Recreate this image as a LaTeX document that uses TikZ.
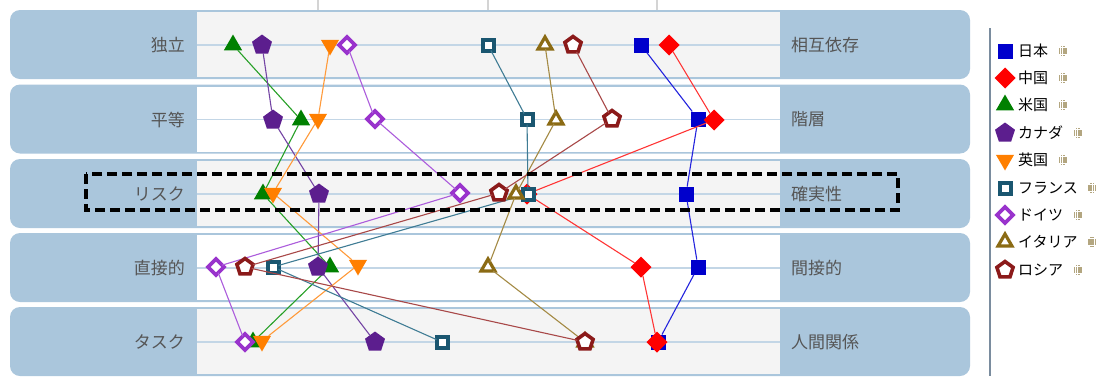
\documentclass[tikz,border=0pt]{standalone}
\usepackage{fontspec}
\setmainfont{Noto Sans CJK JP}
\usetikzlibrary{shapes.geometric}
\definecolor{band}{HTML}{AAC6DC}
\definecolor{panelgray}{HTML}{F4F4F4}
\definecolor{gridline}{HTML}{C3D6E6}
\definecolor{labelgray}{HTML}{555555}
\definecolor{tickgray}{HTML}{D4D4D4}
\definecolor{legline}{HTML}{7A8C9E}
\definecolor{dotc}{HTML}{B3A680}
\definecolor{cjp}{HTML}{0000CC}
\definecolor{ccn}{HTML}{FF0000}
\definecolor{cus}{HTML}{008000}
\definecolor{cca}{HTML}{5C1E8E}
\definecolor{cuk}{HTML}{FF7F00}
\definecolor{cfr}{HTML}{1A5670}
\definecolor{cde}{HTML}{9933CC}
\definecolor{cit}{HTML}{8B6B14}
\definecolor{cru}{HTML}{8B1A1A}
\definecolor{ljp}{HTML}{2323DD}
\definecolor{lcn}{HTML}{FF3535}
\definecolor{lus}{HTML}{27A027}
\definecolor{lca}{HTML}{7444A4}
\definecolor{luk}{HTML}{FF9A3A}
\definecolor{lfr}{HTML}{3F7C94}
\definecolor{lde}{HTML}{AC5CDC}
\definecolor{lit}{HTML}{A48A44}
\definecolor{lru}{HTML}{A84848}
\tikzset{
  lbl/.style={text=labelgray, font=\fontsize{17}{19}\selectfont, inner sep=0pt},
  legtxt/.style={text=black, font=\fontsize{15}{17}\selectfont, inner sep=0pt, anchor=west},
  dotico/.style={circle, minimum size=10pt, inner sep=0pt},
  ser/.style={line width=1.1pt},
  mk/.style={inner sep=0pt, outer sep=0pt},
  mjp/.style={mk, rectangle, fill=cjp, minimum size=15pt},
  mcn/.style={mk, diamond, fill=ccn, minimum size=21pt},
  mus/.style={mk, regular polygon, regular polygon sides=3, fill=cus, minimum size=21pt},
  mca/.style={mk, regular polygon, regular polygon sides=5, fill=cca, minimum size=21pt},
  muk/.style={mk, regular polygon, regular polygon sides=3, shape border rotate=180, fill=cuk, minimum size=21pt},
  mfr/.style={mk, rectangle, draw=cfr, line width=4pt, fill=white, minimum size=11pt},
  mde/.style={mk, diamond, draw=cde, line width=3.6pt, fill=white, minimum size=16pt},
  mit/.style={mk, regular polygon, regular polygon sides=3, draw=cit, line width=3.2pt, fill=white, minimum size=16pt},
  mru/.style={mk, regular polygon, regular polygon sides=5, draw=cru, line width=3.6pt, fill=white, minimum size=17pt},
}
\begin{document}
\begin{tikzpicture}[x=1pt,y=-1pt]
\useasboundingbox (0,0) rectangle (1104,376);
\fill[white] (0,0) rectangle (1104,376);
% top ticks
\foreach \t in {318,488,657} \draw[tickgray, line width=1.5pt] (\t,0) -- (\t,10);
% bands
\foreach \c/\f in {45/panelgray,119.5/white,194/panelgray,268/white,342/panelgray} {
  \fill[band, rounded corners=10pt] (10,\c-35) rectangle (970,\c+34);
  \fill[\f] (197,\c-33) rectangle (780,\c+32);
  \draw[gridline, line width=1.5pt] (197,\c) -- (780,\c);
}
% labels
\node[lbl, anchor=east] (l1) at (185,45) {独立};
\node[lbl, anchor=east] (l2) at (185,119.5) {平等};
\node[lbl, anchor=east] (l3) at (185,194) {リスク};
\node[lbl, anchor=east] (l4) at (185,268) {直接的};
\node[lbl, anchor=east] (l5) at (185,342) {タスク};
\node[lbl, anchor=west] (r1) at (791,45) {相互依存};
\node[lbl, anchor=west] (r2) at (791,119.5) {階層};
\node[lbl, anchor=west] (r3) at (791,194) {確実性};
\node[lbl, anchor=west] (r4) at (791,268) {間接的};
\node[lbl, anchor=west] (r5) at (791,342) {人間関係};
% series
\foreach \x/\y [count=\i] in {641/45,698/119,686/194,698/267,658/342} \node[mjp] (jp\i) at (\x,\y) {};
\draw[ljp,ser] (jp1)--(jp2)--(jp3)--(jp4)--(jp5);
\foreach \x/\y [count=\i] in {669/45,714/120,527/194,641/267,657/342} \node[mcn] (cn\i) at (\x,\y) {};
\draw[lcn,ser] (cn1)--(cn2)--(cn3)--(cn4)--(cn5);
\foreach \x/\y [count=\i] in {233/45,301/120,263/194,330/267,253/342} \node[mus] (us\i) at (\x,\y) {};
\draw[lus,ser] (us1)--(us2)--(us3)--(us4)--(us5);
\foreach \x/\y [count=\i] in {262/45,273/120,319/194,318/267,375/342} \node[mca] (ca\i) at (\x,\y) {};
\draw[lca,ser] (ca1)--(ca2)--(ca3)--(ca4)--(ca5);
\foreach \x/\y [count=\i] in {330/45,318/119,273/193,358/265,262/341} \node[muk] (uk\i) at (\x,\y) {};
\draw[luk,ser] (uk1)--(uk2)--(uk3)--(uk4)--(uk5);
\foreach \x/\y [count=\i] in {488/45,527/119,528/194,273/267,442/342} \node[mfr] (fr\i) at (\x,\y) {};
\draw[lfr,ser] (fr1)--(fr2)--(fr3)--(fr4)--(fr5);
\foreach \x/\y [count=\i] in {347/45,375/119,460/193,216/267,245/342} \node[mde] (de\i) at (\x,\y) {};
\draw[lde,ser] (de1)--(de2)--(de3)--(de4)--(de5);
\foreach \x/\y [count=\i] in {545/45,556/120,516/194,488/267,585/342} \node[mit] (it\i) at (\x,\y) {};
\draw[lit,ser] (it1)--(it2)--(it3)--(it4)--(it5);
\foreach \x/\y [count=\i] in {573/45,612/119,499/193,245/267,585/342} \node[mru] (ru\i) at (\x,\y) {};
\draw[lru,ser] (ru1)--(ru2)--(ru3)--(ru4)--(ru5);
% dashed highlight
\draw[black, line width=3.2pt, dash pattern=on 10pt off 5pt] (86,174) rectangle (898,210);
% legend
\draw[legline, line width=1.5pt] (990,28) -- (990,376);
\foreach \st/\name/\y/\k in {mjp/日本/51/a, mcn/中国/78/b, mus/米国/105/c, mca/カナダ/133/d, muk/英国/160/e, mfr/フランス/188/f, mde/ドイツ/215/g, mit/イタリア/242/h, mru/ロシア/270/i} {
  \node[\st] (lm\k) at (1005,\y) {};
  \node[legtxt] (lt\k) at (1018,\y) {\name};
  \node[dotico, anchor=west] (li\k) at ([xshift=9pt]lt\k.east) {};
  \foreach \dx in {-3.3,-1.1,1.1,3.3} \foreach \dy in {-4.4,-2.2,0,2.2,4.4} {
    \pgfmathparse{(\dx*\dx+\dy*\dy)<26 ? 1 : 0}
    \ifnum\pgfmathresult=1
      \fill[dotc] ([xshift=\dx pt, yshift=\dy pt]li\k.center) ++(-0.8,-0.8) rectangle ++(1.6,1.6);
    \fi
  }
}
\end{tikzpicture}
\end{document}
